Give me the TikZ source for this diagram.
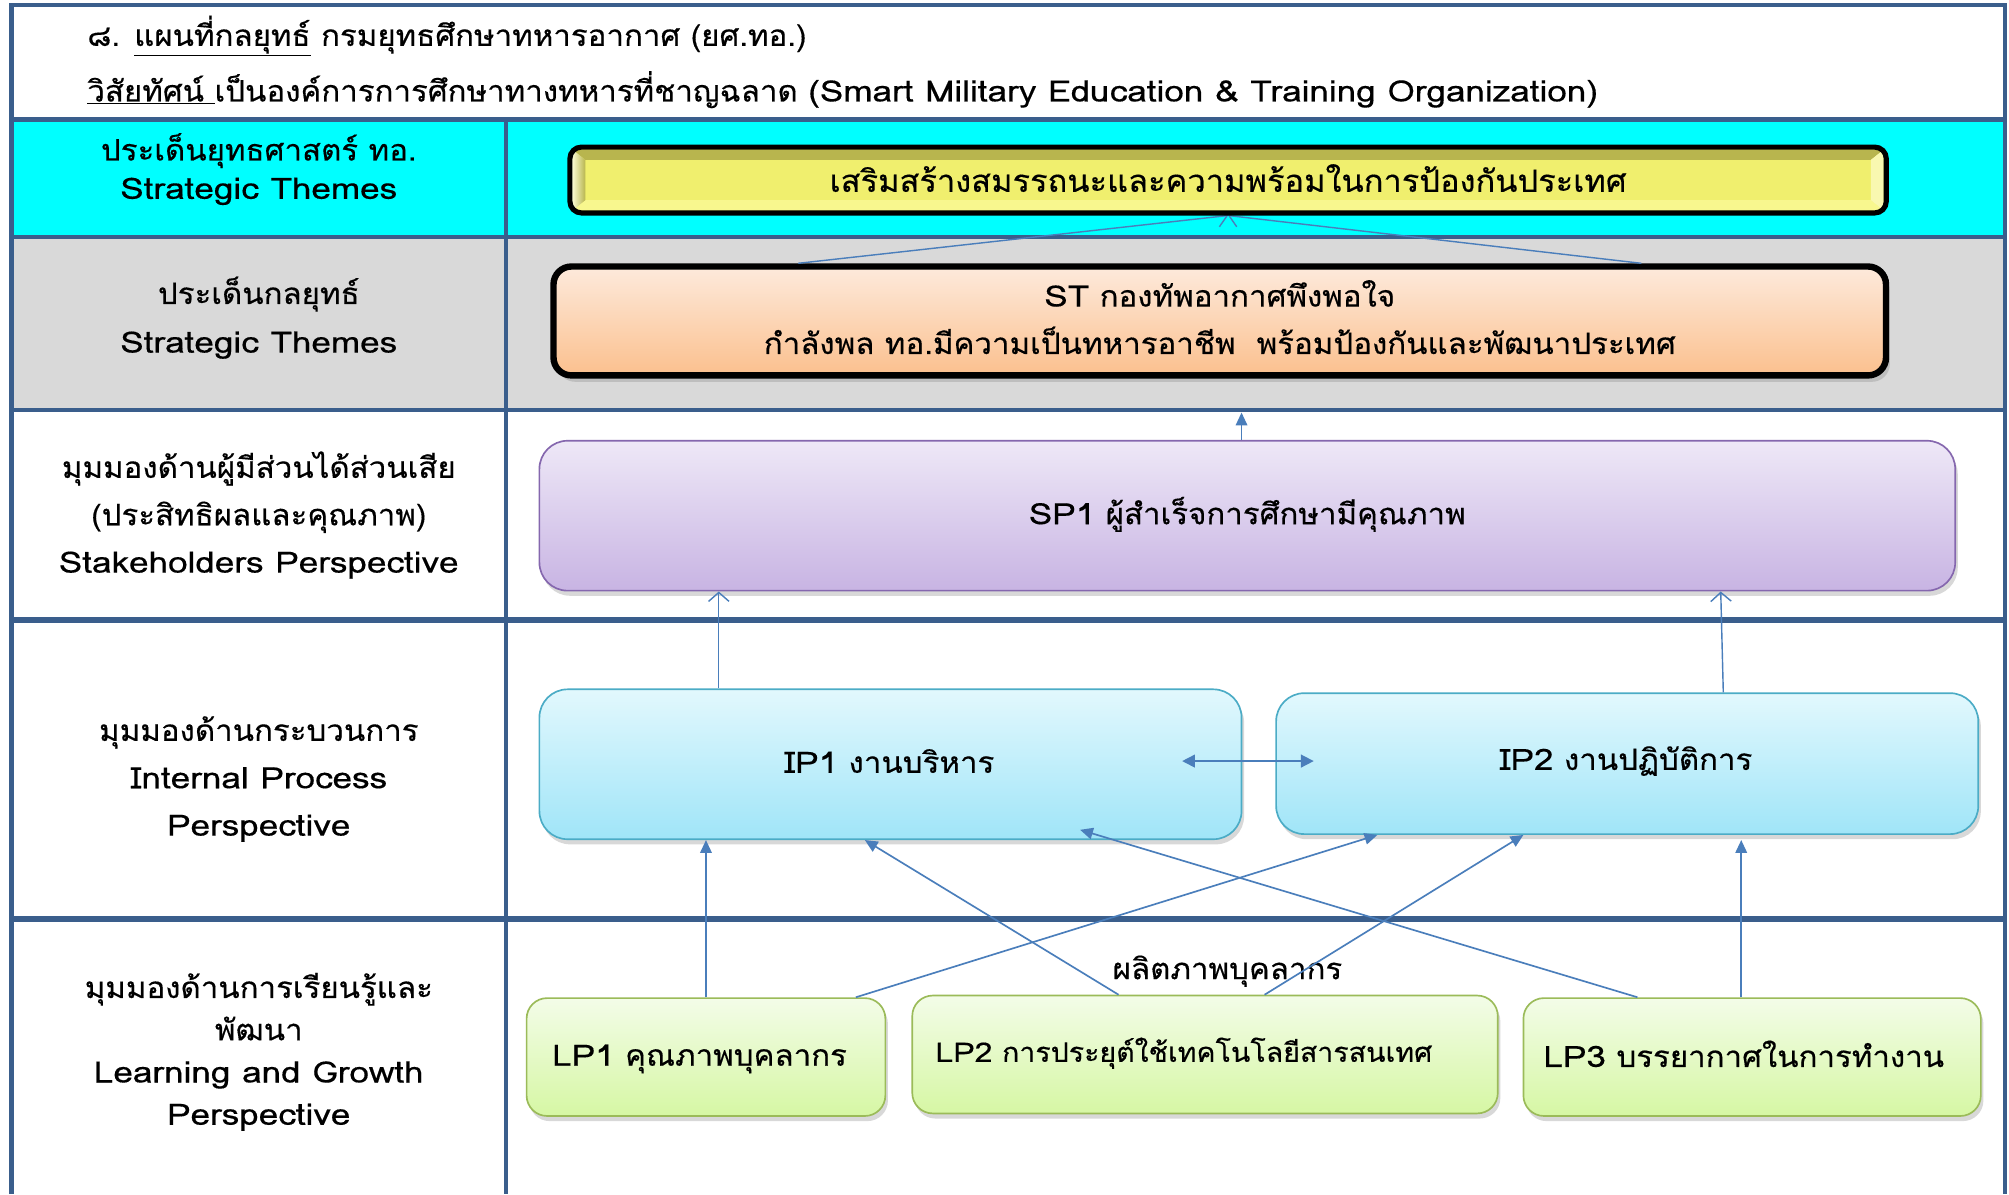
\documentclass[tikz,border=0pt]{standalone}
\usepackage{fontspec}
\setmainfont[Script=Thai,FakeStretch=1.06,FakeBold=0.4]{Loma}
\newfontfamily\latf[FakeStretch=1.19,FakeBold=0.4]{Loma}
\newcommand{\lat}[1]{{\latf #1}}
\usetikzlibrary{arrows.meta,shadows,calc}
\definecolor{bord}{HTML}{3A5E8C}
\definecolor{cyanbg}{HTML}{00FFFF}
\definecolor{greybg}{HTML}{D9D9D9}
\definecolor{arrc}{HTML}{4A7EBB}
\definecolor{yelface}{HTML}{F0EF6E}
\definecolor{yeltop}{HTML}{B8B54E}
\definecolor{yelbot}{HTML}{F8F78E}
\definecolor{yellt}{HTML}{FAFAD0}
\definecolor{yelrt}{HTML}{F9F8B0}
\definecolor{ort}{HTML}{FDEADC}
\definecolor{orb}{HTML}{FBC08E}
\definecolor{pt}{HTML}{EEE8F7}
\definecolor{pb}{HTML}{C8B4E3}
\definecolor{pbord}{HTML}{8567AE}
\definecolor{ipt}{HTML}{E2F8FD}
\definecolor{ipbot}{HTML}{A0E5F8}
\definecolor{ipb}{HTML}{4BACC6}
\definecolor{lpt}{HTML}{F3FCE8}
\definecolor{lpbot}{HTML}{D6F7A4}
\definecolor{lpb}{HTML}{9BBB59}
\tikzset{
  gridline/.style={draw=bord, line width=3.5pt},
  lbl/.style={align=center, inner sep=0pt, font=\fontsize{23}{37}\selectfont},
  boxtext/.style={font=\fontsize{23}{37}\selectfont, align=center},
  arr/.style={draw=arrc, line width=1.3pt, -{Triangle[length=10pt,width=9pt]}},
  dblarr/.style={draw=arrc, line width=1.3pt, {Triangle[length=10pt,width=10pt]}-{Triangle[length=10pt,width=10pt]}},
  oarr/.style={draw=arrc, line width=1.1pt, -{Straight Barb[length=7pt,width=16pt]}},
  box/.style={rounded corners=22pt, line width=1.3pt, inner sep=0pt,
    drop shadow={opacity=0.3, shadow xshift=2pt, shadow yshift=-4pt}},
  ipbox/.style={box, draw=ipb, top color=ipt, bottom color=ipbot},
  lpbox/.style={box, rounded corners=16pt, draw=lpb, top color=lpt, bottom color=lpbot},
  spbox/.style={box, draw=pbord, top color=pt, bottom color=pb},
  stbox/.style={rounded corners=14pt, line width=5pt, draw=black, top color=ort, bottom color=orb,
    drop shadow={opacity=0.3, shadow xshift=3pt, shadow yshift=-5pt}},
}
\begin{document}
\begin{tikzpicture}[x=1pt,y=-1pt]
\useasboundingbox (0,0) rectangle (1568,932);
\fill[white] (0,0) rectangle (1568,932);
% row fills
\fill[cyanbg] (9,93) rectangle (1565,185);
\fill[greybg] (9,185) rectangle (1565,320);
% grid
\draw[gridline] (9,932) -- (9,4) -- (1565,4) -- (1565,932);
\draw[gridline, line width=4pt] (9,93) -- (1565,93);
\draw[gridline] (9,185) -- (1565,185);
\draw[gridline] (9,320) -- (1565,320);
\draw[gridline, line width=5pt] (9,484) -- (1565,484);
\draw[gridline, line width=4.5pt] (9,717) -- (1565,717);
\draw[gridline] (395,93) -- (395,932);

% header
\node[anchor=west, inner sep=0pt, font=\fontsize{23}{30}\selectfont] (h1) at (68,28)
  {๘. \underline{แผนที่กลยุทธ์} กรมยุทธศึกษาทหารอากาศ (ยศ.ทอ.)};
\node[anchor=west, inner sep=0pt, font=\fontsize{23}{30}\selectfont] (h2) at (68,70)
  {\underline{วิสัยทัศน์ }เป็นองค์การการศึกษาทางทหารที่ชาญฉลาด \lat{(Smart Military Education \& Training Organization)}};

% left labels
\node[lbl, font=\fontsize{23}{30}\selectfont] (l1) at (202,132) {ประเด็นยุทธศาสตร์ ทอ.\\\lat{Strategic Themes}};
\node[lbl, font=\fontsize{23}{38}\selectfont] (l2) at (202,248) {ประเด็นกลยุทธ์\\\lat{Strategic Themes}};
\node[lbl] (l3) at (202,402) {มุมมองด้านผู้มีส่วนได้ส่วนเสีย\\(ประสิทธิผลและคุณภาพ)\\\lat{Stakeholders Perspective}};
\node[lbl] (l4) at (202,608) {มุมมองด้านกระบวนการ\\\lat{Internal Process}\\\lat{Perspective}};
\node[lbl, font=\fontsize{23}{33}\selectfont] (l5) at (202,821) {มุมมองด้านการเรียนรู้และ\\พัฒนา\\\lat{Learning and Growth}\\\lat{Perspective}};

% ST box
\node[stbox, minimum width=1040pt, minimum height=85pt, inner sep=0pt] (st) at (952,250.5) {};
\node[boxtext] (sttext) at ([yshift=3pt]st.center) {\lat{ST} กองทัพอากาศพึงพอใจ\\กำลังพล ทอ.มีความเป็นทหารอาชีพ~~พร้อมป้องกันและพัฒนาประเทศ};

% yellow bevel box (named node; drawn after its incoming connectors)
\node[inner sep=0pt, minimum width=1027pt, minimum height=51pt] (yel) at (958.5,140.5) {};
\coordinate (apex) at ([yshift=-2pt]yel.south);
\draw[oarr] ([xshift=-329pt]st.north) -- (apex);
\draw[oarr] ([xshift=329pt]st.north) -- (apex);
\fill[yelface, rounded corners=9pt] (yel.north west) rectangle (yel.south east);
\fill[yeltop] ($(yel.north west)+(2,2)$) -- ($(yel.north east)+(-2,2)$) -- ($(yel.north east)+(-12,10)$) -- ($(yel.north west)+(12,10)$) -- cycle;
\fill[yelbot] ($(yel.south west)+(2,-2)$) -- ($(yel.south east)+(-2,-2)$) -- ($(yel.south east)+(-12,-10)$) -- ($(yel.south west)+(12,-10)$) -- cycle;
\shade[left color=yellt, right color=yeltop] ($(yel.north west)+(2,2)$) -- ($(yel.north west)+(12,10)$) -- ($(yel.south west)+(12,-10)$) -- ($(yel.south west)+(2,-2)$) -- cycle;
\fill[yelrt] ($(yel.north east)+(-2,2)$) -- ($(yel.north east)+(-12,10)$) -- ($(yel.south east)+(-12,-10)$) -- ($(yel.south east)+(-2,-2)$) -- cycle;
\draw[line width=4pt, rounded corners=9pt] (yel.north west) rectangle (yel.south east);
\node[boxtext, font=\fontsize{24}{30}\selectfont] (yeltext) at ([yshift=1.5pt]yel.center) {เสริมสร้างสมรรถนะและความพร้อมในการป้องกันประเทศ};

% SP box
\node[spbox, minimum width=1105pt, minimum height=117pt] (sp1) at (973.5,402.5) {};
\node[boxtext] (sp1text) at ([yshift=1pt]sp1.center) {\lat{SP1} ผู้สำเร็จการศึกษามีคุณภาพ};

% IP boxes
\node[ipbox, minimum width=548pt, minimum height=117pt] (ip1) at (695,596.5) {};
\node[boxtext] (ip1text) at (694,594) {\lat{IP1} งานบริหาร};
\node[ipbox, minimum width=548pt, minimum height=110pt] (ip2) at (1270,596) {};
\node[boxtext] (ip2text) at (1269,594) {\lat{IP2} งานปฏิบัติการ};

% LP boxes
\node[lpbox, minimum width=280pt, minimum height=92pt] (lp1) at (551,825) {};
\node[boxtext] (lp1text) at (546,826.5) {\lat{LP1} คุณภาพบุคลากร};
\node[lpbox, minimum width=457pt, minimum height=92pt] (lp2) at (940.5,823) {};
\node[boxtext, font=\fontsize{21}{30}\selectfont] (lp2text) at (924,822) {\lat{LP2} การประยุต์ใช้เทคโนโลยีสารสนเทศ};
\node[lpbox, minimum width=357pt, minimum height=92pt] (lp3) at (1367.5,825) {};
\node[boxtext] (lp3text) at (1361,822.5) {\lat{LP3} บรรยากาศในการทำงาน};

\node[boxtext, inner sep=0pt] (prod) at (958,758) {ผลิตภาพบุคลากร};

% SP1 -> row line
\coordinate (sptop) at (969,322);
\draw[arr] (sp1.north -| sptop) -- (sptop);

% IP -> SP1
\draw[oarr] ([xshift=-134pt]ip1.north) -- ([xshift=-134pt]ip1.north |- sp1.south);
\draw[oarr] ([xshift=75pt]ip2.north) -- ([xshift=369.5pt]sp1.south);

% IP1 <-> IP2
\draw[dblarr] ([xshift=-47pt,yshift=2.5pt]ip1.east) -- ([xshift=30pt,yshift=2pt]ip2.west);

% LP -> IP
\draw[arr] (lp1.north) -- (lp1.north |- ip1.south);
\draw[arr] ([xshift=117pt]lp1.north) -- ([xshift=-195pt]ip2.south);
\draw[arr] ([xshift=-67.5pt]lp2.north) -- ([xshift=-20pt]ip1.south);
\draw[arr] ([xshift=46.5pt]lp2.north) -- ([xshift=-81pt]ip2.south);
\draw[arr] ([xshift=-89.5pt]lp3.north) -- ([xshift=148pt,yshift=8pt]ip1.south);
\draw[arr] ([xshift=-8.5pt]lp3.north) -- ([xshift=-8.5pt,yshift=-4pt]lp3.north |- ip2.south);
\end{tikzpicture}
\end{document}
